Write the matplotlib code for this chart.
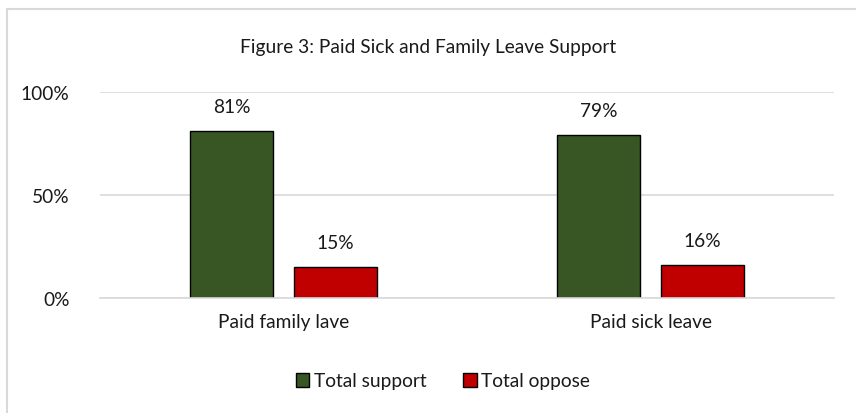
import numpy as np
import matplotlib.pyplot as plt
from matplotlib.patches import Rectangle

plt.rcParams['font.family'] = ['Lato', 'DejaVu Sans']

# data
categories = ["Paid family lave", "Paid sick leave"]
support = [81, 79]
oppose = [15, 16]
series_names = ["Total support", "Total oppose"]
yticks = [0, 50, 100]

FS = 13.8
TXT = "#1a1a1a"

fig = plt.figure(figsize=(8.56, 4.14), dpi=100)
ax = fig.add_axes([100/856, 1 - 299/414, 734/856, 206/414])

x = np.arange(len(categories))
w = 0.226
gap = 0.057
b1 = ax.bar(x - (w + gap)/2, support, w, color="#375623", edgecolor="black",
            linewidth=1, label=series_names[0], zorder=3)
b2 = ax.bar(x + (w + gap)/2, oppose, w, color="#C00000", edgecolor="black",
            linewidth=1, label=series_names[1], zorder=3)

for bars, vals in [(b1, support), (b2, oppose)]:
    for r, v in zip(bars, vals):
        ax.text(r.get_x() + r.get_width()/2, v + 12, f"{v}%", ha="center",
                va="center", fontsize=FS, color=TXT)

ax.set_xlim(-0.5, 1.5)
ax.set_ylim(0, 100)
ax.set_yticks(yticks)
ax.set_yticklabels([f"{t}%" for t in yticks], fontsize=FS, color=TXT)
ax.set_xticks(x)
ax.set_xticklabels(categories, fontsize=FS, color=TXT)
ax.tick_params(length=0)
ax.tick_params(axis="y", pad=22)
ax.tick_params(axis="x", pad=11)
ax.yaxis.grid(True, color="#d9d9d9", linewidth=1.2, zorder=0)
ax.set_axisbelow(True)
for s in ["top", "right", "left"]:
    ax.spines[s].set_visible(False)
ax.spines["bottom"].set_color("#d9d9d9")
ax.spines["bottom"].set_linewidth(1.2)
ax.spines["bottom"].set_zorder(4)

fig.text(428/856, 1 - 47/414, "Figure 3: Paid Sick and Family Leave Support",
         ha="center", va="center", fontsize=FS, color=TXT)

leg = fig.legend(handles=[b1, b2], labels=series_names, loc="center",
                 bbox_to_anchor=(443/856, 1 - 382/414), ncol=2, frameon=False,
                 fontsize=FS, handlelength=0.7, handleheight=0.7,
                 handletextpad=0.25, columnspacing=1.9)
for t in leg.get_texts():
    t.set_color(TXT)

# outer chart border (only top and left edges fall inside the image)
fig.patches.append(Rectangle((7/856, -10/414), 900/856, 414/414, transform=fig.transFigure,
                             fill=False, edgecolor="#d9d9d9", linewidth=1.5))

fig.savefig("out.png", dpi=100)
